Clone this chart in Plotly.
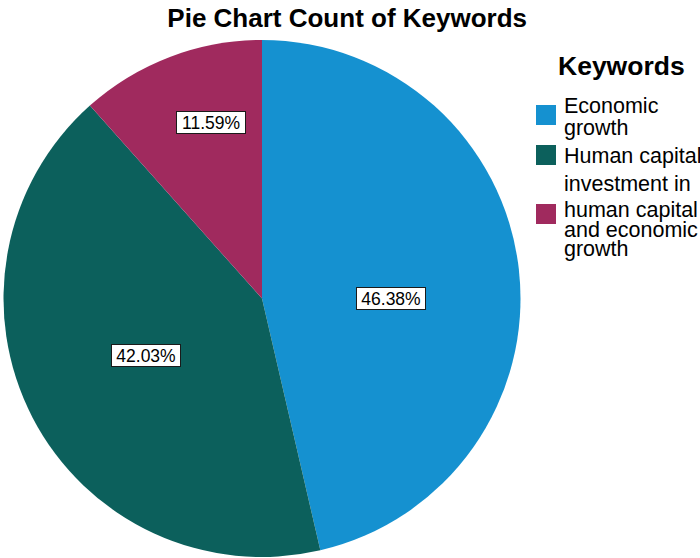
import math
import plotly.graph_objects as go

# Keyword counts
keywords = [
    "Economic growth",
    "Human capital",
    "investment in human capital and economic growth",
]
counts = [32, 29, 8]

# Legend text, wrapped onto lines
legend_lines = [
    ["Economic", "growth"],
    ["Human capital"],
    ["investment in", "human capital", "and economic", "growth"],
]

colors = ["#1591D0", "#0C605C", "#A02A5E"]
FONT = "Liberation Sans, Arial, sans-serif"

W, H = 700, 558
# pie box in pixels (left, top, right, bottom)
px0, py0, px1, py1 = 3, 40, 521, 557
cx, cy = (px0 + px1) / 2, (py0 + py1) / 2
R = min(px1 - px0, py1 - py0) / 2

# placement of the percentage boxes within each slice
label_radius = [0.50, 0.50, 0.71]
label_nudge_deg = [6.7, 1.0, 4.7]

# legend layout (pixels)
swatch_x0, swatch_x1 = 536, 556
swatch_tops = [105, 145, 204]
swatch_size = 20
legend_text_x = 562
legend_baselines = [[114, 136], [163.3], [191.7, 217.7, 237.3, 256.7]]
legend_fs = 21.5


def paper(x, y):
    return x / W, 1 - y / H


fig = go.Figure(
    go.Pie(
        labels=keywords,
        values=counts,
        sort=False,
        direction="clockwise",
        rotation=0,
        marker=dict(colors=colors, line=dict(width=0)),
        textinfo="none",
        hoverinfo="label+value+percent",
        domain=dict(x=[px0 / W, px1 / W], y=[1 - py1 / H, 1 - py0 / H]),
        showlegend=False,
    )
)

annotations = []
shapes = []

# percentage labels in boxes, placed along each slice's middle angle
total = sum(counts)
cum = 0
for i, c in enumerate(counts):
    mid = (cum + c / 2) / total
    cum += c
    theta = math.radians(mid * 360 + label_nudge_deg[i])
    r = label_radius[i] * R
    lx = cx + r * math.sin(theta)
    ly = cy - r * math.cos(theta)
    ax, ay = paper(lx, ly)
    annotations.append(
        dict(
            x=ax, y=ay, xref="paper", yref="paper",
            text=f"{100 * c / total:.2f}%",
            showarrow=False,
            font=dict(family=FONT, size=17.5, color="#000"),
            bgcolor="#ffffff",
            bordercolor="#1a1a1a",
            borderwidth=1,
            borderpad=2,
            width=64, height=17,
            xanchor="center", yanchor="middle",
        )
    )

# legend title
tx, ty = paper(556, 66)
annotations.append(
    dict(
        x=tx, y=ty, xref="paper", yref="paper", text="Keywords",
        showarrow=False, xanchor="left", yanchor="middle",
        font=dict(family=FONT, size=26.5, color="#000", weight="bold"),
    )
)

# legend entries
for i, lines in enumerate(legend_lines):
    sx0, sy0 = paper(swatch_x0, swatch_tops[i])
    sx1, sy1 = paper(swatch_x1, swatch_tops[i] + swatch_size)
    shapes.append(
        dict(type="rect", xref="paper", yref="paper",
             x0=sx0, x1=sx1, y0=sy1, y1=sy0,
             fillcolor=colors[i], line=dict(width=0))
    )
    for line, base in zip(lines, legend_baselines[i]):
        lx, ly = paper(legend_text_x, base - 0.36 * legend_fs)
        annotations.append(
            dict(
                x=lx, y=ly, xref="paper", yref="paper", text=line,
                showarrow=False, xanchor="left", yanchor="middle",
                font=dict(family=FONT, size=legend_fs, color="#000"),
            )
        )

fig.update_layout(
    width=W, height=H, autosize=False,
    margin=dict(l=0, r=0, t=0, b=0),
    paper_bgcolor="#ffffff",
    title=dict(
        text="Pie Chart Count of Keywords",
        x=0.496, xanchor="center",
        y=1 - 18 / H, yanchor="middle", yref="container",
        font=dict(family=FONT, size=26, color="#000", weight="bold"),
    ),
    annotations=annotations,
    shapes=shapes,
)

fig.write_html("out.html")
